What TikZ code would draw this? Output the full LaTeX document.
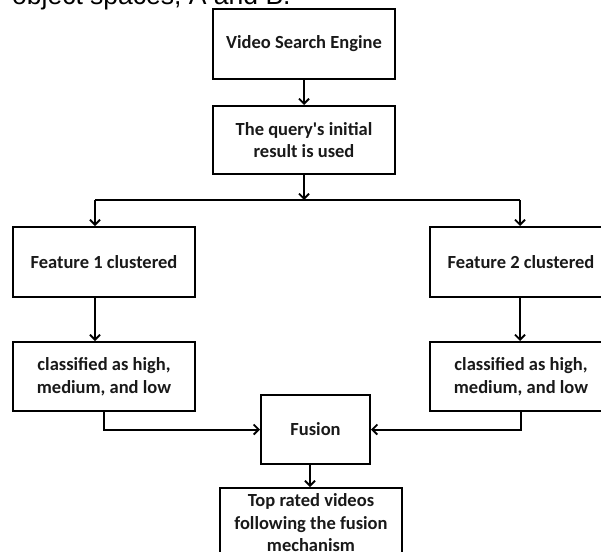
\documentclass[tikz,border=0pt]{standalone}
\usepackage{fontspec}
\setmainfont{Carlito}
\newfontfamily\boxfont{Carlito}
\newfontfamily\arialfont{Liberation Sans}
\usetikzlibrary{arrows.meta}
\begin{document}
\begin{tikzpicture}[x=1pt,y=1pt,
  box/.style={draw=black,line width=2pt,rectangle,minimum width=182pt,minimum height=70pt,
    align=center,inner sep=0pt,font=\boxfont\fontsize{18.5}{22.5}\selectfont\bfseries,text=black!90},
  conn/.style={draw=black,line width=2pt},
  arr/.style={conn,-{Straight Barb[length=5pt,width=10pt,line width=1.8pt]}}]
\useasboundingbox (0,0) rectangle (601,-551);
\clip (0,0) rectangle (601,-551);
\fill[white] (0,0) rectangle (601,-551);
% clipped caption line at the top
\node[anchor=base west,inner sep=0pt,font=\arialfont\fontsize{26.5}{30}\selectfont] (cap) at (12,-5) {object spaces, A and B.};
% boxes
\node[box] (vse) at (304,-44) {Video Search Engine};
\node[box,minimum height=68pt] (query) at (304,-140) {The query's initial\\result is used};
\node[box] (f1) at (104,-262) {Feature 1 clustered};
\node[box] (f2) at (521,-262) {Feature 2 clustered};
\node[box,minimum height=69pt] (c1) at (104,-376.5) {classified as high,\\medium, and low};
\node[box,minimum height=69pt] (c2) at (521,-376.5) {classified as high,\\medium, and low};
\node[box,minimum width=109pt,minimum height=69pt] (fusion) at (315.5,-429.5) {Fusion};
\node[box] (top) at (311,-523) {Top rated videos\\following the fusion\\mechanism};
% connectors
\coordinate (split) at (304,-200);
\coordinate (L) at (95,-200);
\coordinate (R) at (520,-200);
\draw[arr] (vse) -- (query);
\draw[arr] (query.south) -- (split);
\draw[conn] (L) -- (R);
\draw[arr] (L) -- (L |- f1.north);
\draw[arr] (R) -- (R |- f2.north);
\draw[arr] (L |- f1.south) -- (L |- c1.north);
\draw[arr] (R |- f2.south) -- (R |- c2.north);
\draw[arr] (c1.south) |- (fusion.west);
\draw[arr] (c2.south) |- (fusion.east);
\coordinate (fb) at (310,-464);
\draw[arr] (fb) -- (fb |- top.north);
\end{tikzpicture}
\end{document}
